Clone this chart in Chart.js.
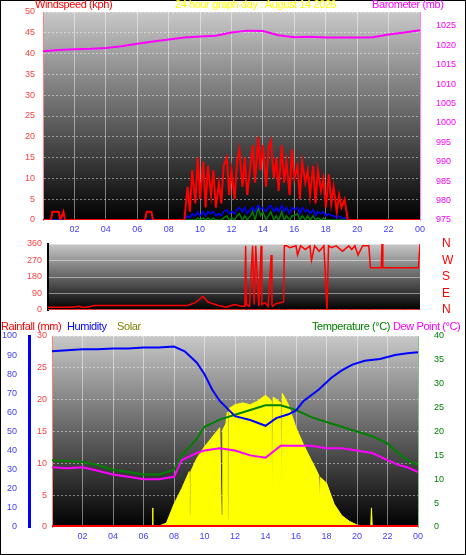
<!DOCTYPE html>
<html><head><meta charset="utf-8">
<script src="https://cdn.jsdelivr.net/npm/chart.js@4/dist/chart.umd.min.js"></script>
<style>
body{margin:0;background:#fff;font-family:"Liberation Sans",Arial,sans-serif;}
#frame{position:absolute;left:0;top:0;width:464px;height:553px;border:1px solid #000;background:#fff;}
canvas{position:absolute;left:0;}
.t{position:absolute;font-size:11px;letter-spacing:-0.4px;white-space:nowrap;}
</style></head><body>
<div id="frame"></div>
<canvas id="c1" style="top:0px;width:466px;height:243px" width="466" height="243"></canvas>
<canvas id="c2" style="top:236px;width:466px;height:80px" width="466" height="80"></canvas>
<canvas id="c3" style="top:330px;width:466px;height:225px" width="466" height="225"></canvas>
<div class="t" style="left:35px;top:-2px;color:#f00">Windspeed (kph)</div>
<div class="t" style="left:175px;top:-2px;color:#ff0">24 hour graph day : August 14 2026</div>
<div class="t" style="left:372px;top:-2px;color:#f0f">Barometer (mb)</div>
<div class="t" style="left:1px;top:320px;color:#f00">Rainfall (mm)</div>
<div class="t" style="left:67px;top:320px;color:#00f">Humidity</div>
<div class="t" style="left:117px;top:320px;color:#808000">Solar</div>
<div class="t" style="left:312px;top:320px;color:#008000">Temperature (°C)</div>
<div class="t" style="left:393px;top:320px;color:#f0f">Dew Point (°C)</div>
<script>
// ---- data ----
const hours = [0,1,2,3,4,5,6,7,8,9,10,11,12,13,14,15,16,17,18,19,20,21,22,23,24];
const barometer = [1018.5,1018.8,1019,1019.1,1019.3,1019.8,1020.4,1021,1021.5,1022,1022.3,1022.5,1023.3,1023.8,1023.7,1022.6,1022.1,1022.2,1022,1022,1022,1022.1,1022.8,1023.3,1023.9];
const windTimes = [0,0.5,0.6,1.0,1.1,1.3,1.4,6.5,6.6,6.9,7.0,9.0,9.2,9.35,9.5,9.7,9.85,10,10.2,10.35,10.5,10.7,10.85,11,11.2,11.35,11.5,11.7,11.85,12,12.2,12.35,12.5,12.7,12.85,13,13.2,13.35,13.5,13.7,13.85,14,14.2,14.35,14.5,14.7,14.85,15,15.2,15.35,15.5,15.7,15.85,16,16.2,16.35,16.5,16.7,16.85,17,17.2,17.35,17.5,17.7,17.85,18,18.2,18.35,18.5,18.7,18.85,19,19.2,19.4,24];
const windGust = [0,0,2,2,0,2,0,0,2,2,0,0,8,2,12,4,15,5,14,3,13,6,12,3,9,4,13,15,6,12,5,14,17,8,15,6,13,18,9,20,12,18,8,17,19,10,15,7,18,9,14,6,17,10,13,5,14,9,12,6,13,4,12,7,10,3,11,4,8,2,6,3,5,0,0];
const windAvg = [0,0,0,0,0,0,0,0,0,0,0,0,1,0.5,1.5,1,2,1,2,1,2,1.5,2,1,1.5,1,2,2.5,1.5,2,1.5,2.5,3,2,3,1.5,2.5,3,2,3.5,2.5,3,2,3,3.5,2,3,2,3.5,2,3,1.5,3,2.5,3,1.5,3,2,2.5,1.5,2.5,1,2,1.5,2,1,1.5,1,1,0.5,1,0.5,0.5,0,0];
const windLow = [0,0,0,0,0,0,0,0,0,0,0,0,0,0,0,0,0.5,0,0.5,0,0.5,0,0.5,0,0,0,0.5,1,0,0.5,0,1,1.5,0,1,0,1,2,0,3,1,2,0,1,2,0,1,0,2,0,1,0,1,1,1.5,0,1,0,1,0,1,0,0.5,0,0.5,0,0,0,0,0,0,0,0,0,0];
const dirTimes = [0,1.5,2,2.2,2.5,3,9,9.5,9.8,10,10.3,10.6,11,11.5,12,12.5,12.7,12.75,12.8,13,13.2,13.3,13.4,13.6,13.75,13.8,14,14.2,14.4,14.45,14.5,14.7,15,15.2,15.25,15.4,15.6,16,16.1,16.3,16.6,16.9,17,17.2,17.5,17.8,18,18.05,18.1,18.3,18.6,19,19.4,19.6,19.8,20,20.3,20.7,20.8,21.5,21.55,21.6,22,23,23.9,24];
const windDir = [15,15,20,15,15,25,25,40,60,75,45,35,25,15,30,20,20,350,30,20,350,30,350,20,350,30,40,20,300,30,20,35,40,45,350,350,340,350,300,350,330,350,270,350,320,350,0,0,350,340,350,320,350,330,350,300,350,350,230,230,360,230,230,230,230,360];
const solarTimes = [0,6.6,6.6,6.62,6.64,7,7.5,8,8.5,9,9.05,9.1,9.15,9.5,10,10.5,11,11.1,11.15,11.2,11.4,11.5,11.55,11.6,12,12.5,13,13.5,14,14.4,14.45,14.5,15,15.05,15.1,15.5,16,16.5,17,17.2,17.5,17.55,17.6,18,18.5,19,19.5,20,20.5,20.9,20.95,21,24];
const solar = [0,0,100,0,0,5,20,120,200,290,60,290,300,360,420,470,520,70,60,510,540,600,40,620,640,650,640,660,690,660,70,680,650,110,700,640,520,430,350,320,270,120,260,230,120,60,30,10,5,0,100,0,0];
const humidity = [92,92.5,93,93,93.5,93.5,94,94,94.5,92,86,80,72,66,58,56,53,57,59,61,66,72,78,82,85,87,88,90,91,91.5];
const humTimes = [0,1,2,3,4,5,6,7,8,8.7,9.5,10,10.5,11,12,13,14,14.7,15.5,16,16.5,17.5,18.3,19,19.7,20.5,21.5,22.5,23.3,24];
const temperature = [14,13.8,13.6,13,12,11.5,11,11,12,15,18.5,21,22.5,23.5,24.5,25.5,25.5,24.5,23,22,21,20,19,17.5,15.5,14,13];
const dewPoint = [12.5,12.3,12.5,11.8,11,10.5,10,10,10.5,14,15.5,16,16.5,16,15,14.5,17,17,17,16.5,16.5,16,15.5,14,13,12.5,11.5];
const tdTimes = [0,1,2,3,4,5,6,7,8,8.5,9.5,10,11,12,13,14,15,16,17,18,19,20,21,22,22.7,23.3,24];
const rainfall = [0,0];
const rainTimes = [0,24];
const hourTicks = [2,4,6,8,10,12,14,16,18,20,22,24];
const dirTicks = [0,90,180,270,360];
const dirNames = ['N','E','S','W','N'];

const pts = (xs, ys) => xs.map((x,i)=>({x, y:ys[i]}));
const hourLabel = v => (v%2===0 && v>0) ? String(v%24).padStart(2,'0') : '';
const F = {family:"'Liberation Sans', Arial, sans-serif", size:9};
const bg = {id:'bg', beforeDraw(c){const a=c.chartArea,x=c.ctx;const g=x.createLinearGradient(0,a.top,0,a.bottom);g.addColorStop(0,'#c8c8c8');g.addColorStop(1,'#000');x.save();x.fillStyle=g;x.fillRect(a.left,a.top,a.right-a.left,a.bottom-a.top);x.restore();}};
const grid = {color:'rgba(255,255,255,0.45)', borderDash:[1,2], drawTicks:false};
const fixW = w => ({afterFit(s){s.width=w;s.paddingTop=0;s.paddingBottom=0;}});
const fixH = h => ({afterFit(s){s.height=h;s.paddingLeft=0;s.paddingRight=0;}});
const xScale = (show,h) => Object.assign({type:'linear',min:0,max:24,afterBuildTicks(s){s.ticks=hourTicks.map(v=>({value:v}));},
  ticks:{display:show,color:'#4040ff',font:F,callback:hourLabel,maxRotation:0,autoSkip:false,padding:4},
  grid:grid, border:{display:false}}, fixH(h));
const line = (data,color,axis,w,extra) => Object.assign({data,borderColor:color,borderWidth:w,pointRadius:0,yAxisID:axis,tension:0},extra||{});
const base = {animation:false,responsive:false,devicePixelRatio:1,plugins:{legend:{display:false},tooltip:{enabled:false}}};

new Chart(document.getElementById('c1'),{type:'line',plugins:[bg],
 data:{datasets:[
  line(pts(hours,barometer),'#ff00ff','yb',2),
  line(pts(windTimes,windGust),'#ff0000','yw',2),
  line(pts(windTimes,windAvg),'#0000ff','yw',1.5),
  line(pts(windTimes,windLow),'#008000','yw',1.5)]},
 options:Object.assign({},base,{layout:{padding:{top:12}},scales:{
  x:xScale(true,23),
  yw:Object.assign({position:'left',min:0,max:50,ticks:{stepSize:5,color:'#ff4040',font:F,padding:8},grid:grid,border:{color:'#ff8080',dash:[2,2]}},fixW(43)),
  yb:Object.assign({position:'right',min:975,max:1028.6,afterBuildTicks(s){s.ticks=[975,980,985,990,995,1000,1005,1010,1015,1020,1025].map(v=>({value:v}));},ticks:{color:'#ff00ff',font:F,padding:8,callback:v=>String(v)},grid:{display:false},border:{color:'#ff80ff',dash:[2,2]}},fixW(46))
 }})});

new Chart(document.getElementById('c2'),{type:'line',plugins:[bg],
 data:{datasets:[line(pts(dirTimes,windDir),'#ff0000','yd',1.5),line(pts(dirTimes,windDir.map(()=>2)),'#ff4040','yd',1)]},
 options:Object.assign({},base,{layout:{padding:{top:8,bottom:6}},scales:{
  x:{type:'linear',min:0,max:24,display:false},
  yd:Object.assign({position:'left',min:0,max:360,afterBuildTicks(s){s.ticks=dirTicks.map(v=>({value:v}));},ticks:{color:'#ff4040',font:F,padding:6,autoSkip:false},grid:grid,border:{color:'#000',width:2}},fixW(48)),
  yc:Object.assign({position:'right',min:0,max:360,afterBuildTicks(s){s.ticks=dirTicks.map(v=>({value:v}));},ticks:{color:'#ff0000',font:{family:F.family,size:12},padding:14,autoSkip:false,callback:v=>dirNames[dirTicks.indexOf(v)]},grid:{display:false},border:{display:false}},fixW(46))
 }})});

new Chart(document.getElementById('c3'),{type:'line',plugins:[bg],
 data:{datasets:[
  line(pts(rainTimes,rainfall),'#ff0000','yr',4),
  line(pts(humTimes,humidity),'#0000ff','yh',2),
  line(pts(tdTimes,temperature),'#008000','yt',2),
  line(pts(tdTimes,dewPoint),'#ff00ff','yt',2),
  line(pts(solarTimes,solar),'#ffff00','ys',1,{fill:'origin',backgroundColor:'#ffff00'})]},
 options:Object.assign({},base,{layout:{padding:{top:6}},scales:{
  x:xScale(true,28),
  yr:Object.assign({position:'left',min:0,max:30,ticks:{stepSize:5,color:'#ff4040',font:F,padding:5},grid:grid,border:{color:'#ff8080',dash:[2,2]}},fixW(23)),
  yh:Object.assign({position:'left',min:0,max:100,ticks:{stepSize:10,color:'#4040ff',font:F,padding:4},grid:{display:false},border:{color:'#0000ff',width:3}},fixW(29)),
  yt:Object.assign({position:'right',min:0,max:40,ticks:{stepSize:5,color:'#008000',font:F,padding:8},grid:{display:false},border:{color:'#80c080',dash:[2,2]}},fixW(48)),
  ys:{display:false,min:0,max:1000}
 }})});
</script>
</body></html>
